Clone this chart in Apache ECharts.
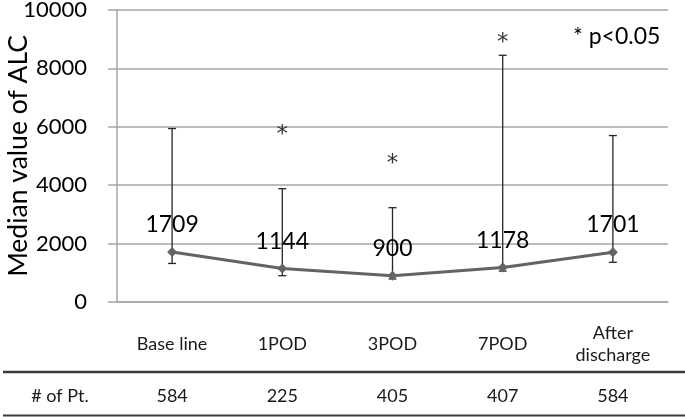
<!DOCTYPE html>
<html>
<head>
<meta charset="utf-8">
<script src="https://cdn.jsdelivr.net/npm/echarts@6/dist/echarts.min.js"></script>
<style>
  html, body { margin: 0; padding: 0; background: #fff; }
  #chart { width: 685px; height: 417px; }
</style>
</head>
<body>
<div id="chart"></div>
<script>
// 各时间点
const categories = ['Base line', '1POD', '3POD', '7POD', 'After\ndischarge'];
// 中位数 ALC
const medianALC = [1709, 1144, 900, 1178, 1701];
// 误差线 下限 / 上限
const lowALC = [1320, 900, 790, 1060, 1360];
const highALC = [5940, 3880, 3230, 8450, 5700];
// 星号 (p<0.05) 的位置
const starY = [null, 5730, 4740, 8880, null];
// 病人数
const patients = [584, 225, 405, 407, 584];
// y轴刻度
const yTicks = [0, 2000, 4000, 6000, 8000, 10000];

const font = 'Lato, "Open Sans", sans-serif';

var myChart = echarts.init(document.getElementById('chart'));

const errData = categories.map((c, i) => [i, lowALC[i], highALC[i]]);

var option = {
    animation: false,
    grid: { left: 117, right: 17, top: 10, bottom: 115, containLabel: false, outerBoundsMode: 'none' },
    xAxis: [
        {
            type: 'category',
            data: categories,
            axisLine: { show: true, lineStyle: { color: '#a6a6a6', width: 1.5 } },
            axisTick: { show: false },
            axisLabel: {
                margin: 42,
                verticalAlign: 'middle',
                lineHeight: 22,
                fontFamily: font,
                fontSize: 18,
                color: '#1a1a1a'
            }
        },
        {
            //病人数那一行
            type: 'category',
            position: 'bottom',
            offset: 94,
            data: patients.map(String),
            axisLine: { show: false },
            axisTick: { show: false },
            axisLabel: {
                margin: 0,
                verticalAlign: 'middle',
                fontFamily: font,
                fontSize: 18,
                color: '#1a1a1a'
            }
        }
    ],
    yAxis: {
        type: 'value',
        min: yTicks[0],
        max: yTicks[yTicks.length - 1],
        interval: 2000,
        name: 'Median value of ALC',
        nameLocation: 'middle',
        nameGap: 85,
        nameMoveOverlap: false,
        nameTextStyle: { fontFamily: font, fontSize: 26.5, color: '#000' },
        axisLine: { show: true, lineStyle: { color: '#a6a6a6', width: 1.5 } },
        axisTick: { show: true, length: 9, lineStyle: { color: '#a6a6a6', width: 1.5 } },
        axisLabel: { margin: 30, fontFamily: font, fontSize: 22, color: '#000', formatter: v => String(v) },
        splitLine: { lineStyle: { color: '#a6a6a6', width: 1.5 } }
    },
    series: [
        {
            type: 'custom',
            name: 'range',
            data: errData,
            z: 3,
            renderItem: (params, api) => {
                const x = api.coord([api.value(0), 0])[0];
                const yl = api.coord([api.value(0), api.value(1)])[1];
                const yh = api.coord([api.value(0), api.value(2)])[1];
                const w = 4;
                const st = { stroke: '#262626', lineWidth: 1.3 };
                return {
                    type: 'group',
                    children: [
                        { type: 'line', shape: { x1: x, y1: yl, x2: x, y2: yh }, style: st },
                        { type: 'line', shape: { x1: x - w, y1: yh, x2: x + w, y2: yh }, style: st },
                        { type: 'line', shape: { x1: x - w, y1: yl, x2: x + w, y2: yl }, style: st }
                    ]
                };
            }
        },
        {
            type: 'line',
            name: 'median',
            data: medianALC,
            z: 4,
            symbol: 'diamond',
            symbolSize: 10,
            itemStyle: { color: '#636363' },
            lineStyle: { color: '#636363', width: 3 },
            label: {
                show: true,
                position: 'top',
                distance: 11,
                fontFamily: font,
                fontSize: 23,
                color: '#000',
                formatter: p => String(p.value)
            }
        },
        {
            type: 'scatter',
            name: 'sig',
            data: starY,
            symbolSize: 0,
            label: {
                show: true,
                position: 'inside',
                formatter: '*',
                fontFamily: '"DejaVu Sans", sans-serif',
                fontSize: 23,
                color: '#000'
            }
        }
    ],
    graphic: [
        {
            type: 'text',
            left: 573,
            top: 25,
            style: { text: '* p<0.05', font: '23px ' + font, fill: '#000' }
        },
        {
            type: 'text',
            x: 60,
            y: 396,
            style: { text: '# of Pt.', font: '18px ' + font, fill: '#1a1a1a', align: 'center', verticalAlign: 'middle' }
        },
        {
            type: 'line',
            shape: { x1: 3, y1: 372, x2: 685, y2: 372 },
            style: { stroke: '#3a3a3a', lineWidth: 2.5 }
        },
        {
            type: 'line',
            shape: { x1: 3, y1: 415.5, x2: 685, y2: 415.5 },
            style: { stroke: '#3a3a3a', lineWidth: 2 }
        }
    ]
};

myChart.setOption(option);
</script>
</body>
</html>
